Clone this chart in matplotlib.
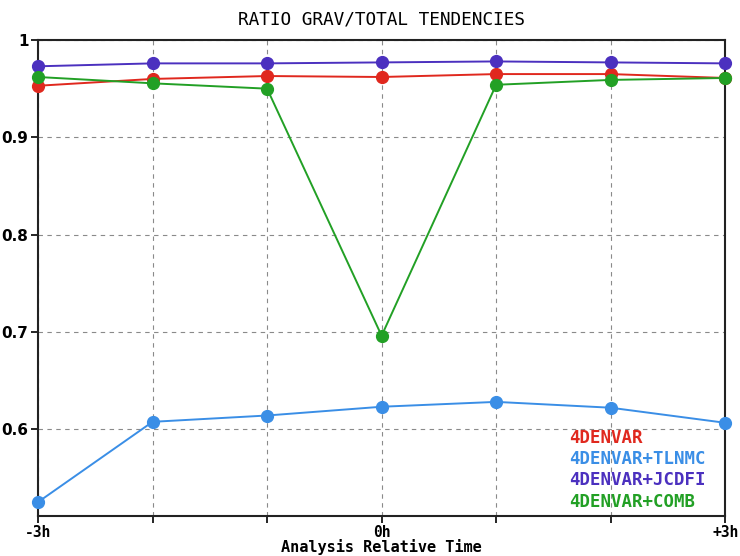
import numpy as np
import matplotlib.pyplot as plt

hours = [-3, -2, -1, 0, 1, 2, 3]
denvar = [0.953, 0.960, 0.963, 0.962, 0.965, 0.965, 0.961]
tlnmc = [0.525, 0.6075, 0.614, 0.623, 0.628, 0.622, 0.6065]
jcdfi = [0.973, 0.976, 0.976, 0.977, 0.978, 0.977, 0.976]
comb = [0.962, 0.9555, 0.950, 0.696, 0.954, 0.959, 0.961]

names = ['4DENVAR', '4DENVAR+TLNMC', '4DENVAR+JCDFI', '4DENVAR+COMB']
cols = ['#e0281e', '#3a8ee6', '#4b30bf', '#22a025']

fig = plt.figure(figsize=(7.4, 5.56), dpi=100)
ax = fig.add_axes([0.0514, 0.0725, 0.9286, 0.8555])

for y, c in zip([denvar, tlnmc, jcdfi, comb], cols):
    ax.plot(hours, y, color=c, lw=1.4, marker='o', ms=8.5, clip_on=False, zorder=3)

ax.set_xlim(-3, 3)
ax.set_ylim(0.511, 1.0)
ax.set_xticks(hours)
ax.set_xticklabels(['-3h', '', '', '0h', '', '', '+3h'])
ax.set_yticks([0.6, 0.7, 0.8, 0.9, 1.0])
ax.set_yticklabels(['0.6', '0.7', '0.8', '0.9', '1'])
ax.tick_params(direction='out', length=5, width=1.2, labelsize=11, pad=2)
for lab in ax.get_yticklabels():
    lab.set_fontweight('bold')
for lab in ax.get_xticklabels():
    lab.set_fontweight('bold')
    lab.set_family('DejaVu Sans Mono')
    lab.set_fontsize(10.5)
ax.grid(True, ls=(0, (4, 4)), color='#8a8a8a', lw=0.8)
for s in ax.spines.values():
    s.set_linewidth(1.5)
    s.set_color('#222222')

ax.set_title('RATIO GRAV/TOTAL TENDENCIES', family='DejaVu Sans Mono', fontsize=12.8, pad=11)
ax.set_xlabel('Analysis Relative Time', family='DejaVu Sans Mono', fontsize=11,
              fontweight='bold', labelpad=-1)

for i, (n, c) in enumerate(zip(names, cols)):
    ax.text(0.773, 0.164 - i * 0.045, n, transform=ax.transAxes, color=c,
            fontsize=12.5, fontweight='bold', family='DejaVu Sans Mono', va='center')

fig.savefig('out.png', dpi=100)
